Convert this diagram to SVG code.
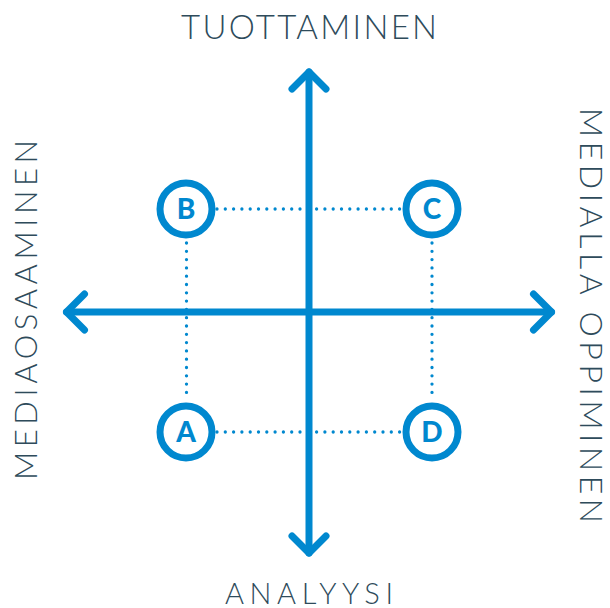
<svg xmlns="http://www.w3.org/2000/svg" width="610" height="608" viewBox="0 0 610 608">
<style>
.lbl{font-family:"Lato","Liberation Sans",sans-serif;font-weight:300;fill:#2e4b5b;text-anchor:middle}
.dot{fill:none;stroke:#0088cf;stroke-width:3.3;stroke-linecap:round;stroke-dasharray:0 8.3}
.axis{fill:none;stroke:#0088cf;stroke-width:7;stroke-linecap:round;stroke-linejoin:round}
.ring{fill:#fff;stroke:#0088cf;stroke-width:7}
.let{font-family:"Lato","Liberation Sans",sans-serif;font-weight:900;font-size:28px;fill:#0088cf;text-anchor:middle}
</style>
<rect width="610" height="608" fill="#fff"/>
<g id="connectors">
<path class="dot" d="M217,209 H401"/>
<path class="dot" d="M217,432 H401"/>
<path class="dot" d="M186.5,243 V399"/>
<path class="dot" d="M432,243 V399"/>
</g>
<g id="axes">
<path class="axis" d="M309,72 V553"/>
<path class="axis" d="M292,89 L309,72 L326,89"/>
<path class="axis" d="M292,536 L309,553 L326,536"/>
<path class="axis" d="M66.5,312 H551.5"/>
<path class="axis" d="M84.5,294 L66.5,312 L84.5,330"/>
<path class="axis" d="M533.5,294 L551.5,312 L533.5,330"/>
</g>
<g id="node-B"><circle class="ring" cx="186" cy="209" r="26"/><text class="let" x="186" y="219">B</text></g>
<g id="node-C"><circle class="ring" cx="432" cy="209" r="26"/><text class="let" x="432" y="219">C</text></g>
<g id="node-A"><circle class="ring" cx="186" cy="432" r="26"/><text class="let" x="186" y="442">A</text></g>
<g id="node-D"><circle class="ring" cx="432" cy="432" r="26"/><text class="let" x="432" y="442">D</text></g>
<g id="labels">
<text class="lbl" x="309" y="39" font-size="33" textLength="256" lengthAdjust="spacing">TUOTTAMINEN</text>
<text class="lbl" x="309" y="604" font-size="29" textLength="168" lengthAdjust="spacing">ANALYYSI</text>
<text class="lbl" transform="translate(37,310) rotate(-90)" font-size="31" textLength="340" lengthAdjust="spacing">MEDIAOSAAMINEN</text>
<text class="lbl" transform="translate(580,315.5) rotate(90)" font-size="32" textLength="415" lengthAdjust="spacing">MEDIALLA OPPIMINEN</text>
</g>
</svg>
